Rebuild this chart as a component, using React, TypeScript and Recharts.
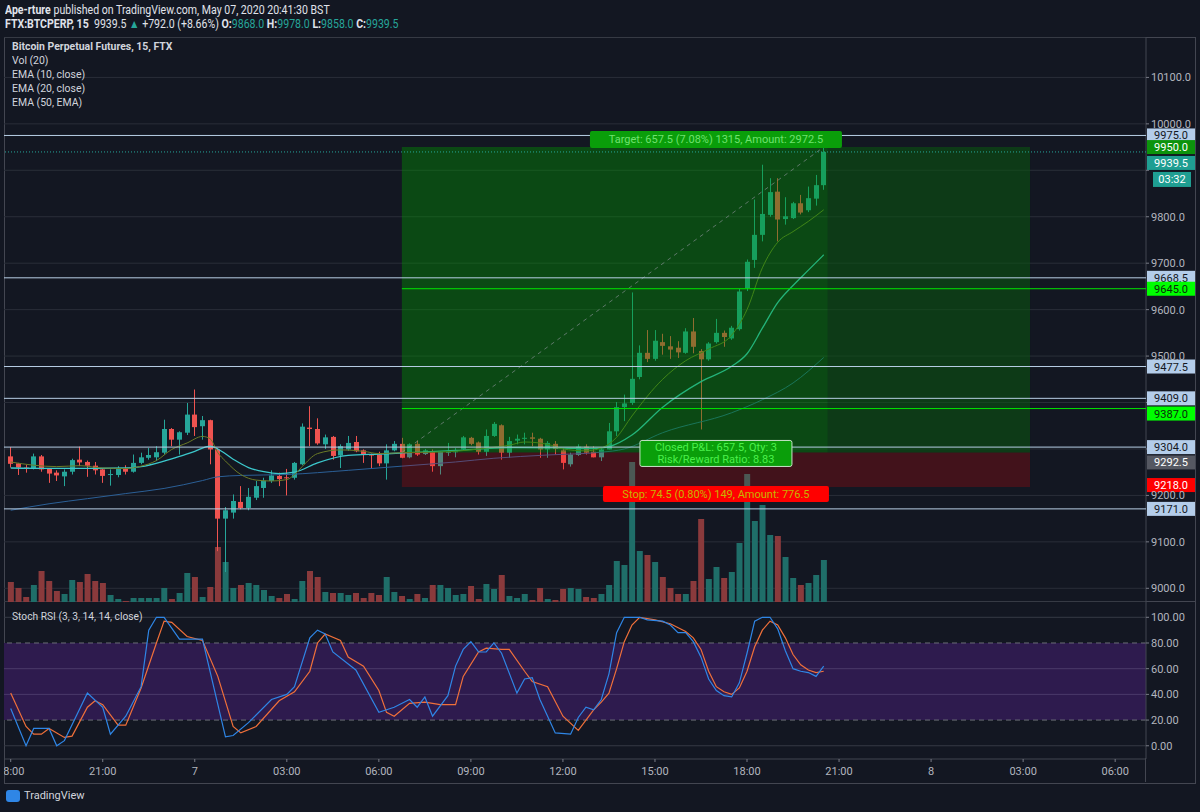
import React from "react"
import {
  ComposedChart, Bar, Line, Cell, XAxis, YAxis, CartesianGrid,
  ReferenceLine, ReferenceArea,
} from "recharts"

// ─── Colours ─────────────────────────────────────────────────────────────────
const BG = "#131722"
const UP = "#26a69a"
const DOWN = "#ef5350"
const TEXT = "#d1d4dc"
const AXIS = "#b2b5be"
const FRAME = "#434651"
const FONT = "Roboto, 'Noto Sans', sans-serif"

// ─── Candles (15m, from 18:00 May 6) ─────────────────────────────────────────
const open = [
  9284, 9269, 9260, 9258, 9284, 9257, 9249, 9241, 9251, 9277,
  9272, 9264, 9256, 9244, 9244, 9258, 9251, 9270, 9281, 9282,
  9292, 9343, 9320, 9335, 9374, 9349, 9362, 9299, 9150, 9163,
  9186, 9173, 9195, 9216, 9231, 9242, 9239, 9238, 9267, 9346,
  9343, 9310, 9326, 9286, 9299, 9315, 9297, 9288, 9288, 9269,
  9297, 9311, 9282, 9311, 9289, 9294, 9263, 9292, 9293, 9299,
  9324, 9314, 9294, 9328, 9351, 9292, 9318, 9322, 9325, 9322,
  9299, 9311, 9297, 9267, 9287, 9305, 9294, 9282, 9299, 9338,
  9390, 9399, 9455, 9507, 9494, 9530, 9521, 9518, 9507, 9553,
  9511, 9493, 9530, 9550, 9538, 9558, 9646, 9707, 9761, 9804,
  9854, 9795, 9797, 9829, 9814, 9839, 9868,
]
const high = [
  9304, 9270, 9266, 9290, 9287, 9259, 9254, 9256, 9279, 9305,
  9275, 9272, 9259, 9256, 9263, 9265, 9288, 9292, 9302, 9306,
  9363, 9345, 9338, 9399, 9428, 9371, 9363, 9302, 9175, 9202,
  9220, 9216, 9231, 9238, 9254, 9249, 9257, 9272, 9355, 9392,
  9366, 9331, 9328, 9310, 9328, 9328, 9299, 9290, 9294, 9310,
  9317, 9324, 9312, 9318, 9300, 9299, 9295, 9313, 9302, 9328,
  9326, 9316, 9342, 9358, 9353, 9326, 9331, 9335, 9335, 9324,
  9317, 9317, 9302, 9292, 9310, 9310, 9306, 9302, 9356, 9401,
  9417, 9637, 9523, 9556, 9556, 9548, 9543, 9532, 9560, 9582,
  9515, 9530, 9580, 9555, 9565, 9645, 9708, 9837, 9912, 9883,
  9883, 9842, 9832, 9847, 9865, 9890, 9978,
]
const low = [
  9260, 9244, 9249, 9256, 9251, 9227, 9231, 9220, 9245, 9263,
  9240, 9245, 9227, 9221, 9239, 9245, 9249, 9267, 9277, 9274,
  9288, 9306, 9288, 9330, 9328, 9320, 9267, 9080, 9035, 9150,
  9170, 9168, 9190, 9195, 9227, 9220, 9200, 9234, 9265, 9306,
  9309, 9300, 9277, 9259, 9296, 9293, 9270, 9258, 9263, 9234,
  9295, 9280, 9280, 9285, 9287, 9251, 9245, 9285, 9282, 9297,
  9308, 9288, 9285, 9326, 9277, 9281, 9310, 9310, 9306, 9281,
  9281, 9288, 9256, 9262, 9285, 9288, 9282, 9274, 9299, 9328,
  9360, 9395, 9450, 9487, 9490, 9503, 9494, 9496, 9505, 9506,
  9342, 9490, 9527, 9520, 9535, 9555, 9640, 9690, 9747, 9800,
  9747, 9783, 9795, 9805, 9810, 9824, 9858,
]
const close = [
  9268, 9260, 9258, 9284, 9256, 9247, 9243, 9251, 9276, 9271,
  9264, 9254, 9242, 9246, 9258, 9251, 9270, 9282, 9287, 9293,
  9343, 9320, 9336, 9374, 9347, 9362, 9299, 9150, 9168, 9188,
  9173, 9197, 9220, 9232, 9243, 9235, 9237, 9270, 9348, 9343,
  9312, 9325, 9285, 9306, 9313, 9295, 9287, 9286, 9269, 9297,
  9311, 9281, 9310, 9288, 9297, 9263, 9294, 9294, 9295, 9325,
  9311, 9294, 9328, 9354, 9292, 9317, 9322, 9324, 9322, 9299,
  9313, 9300, 9270, 9288, 9305, 9292, 9282, 9299, 9338, 9390,
  9398, 9451, 9507, 9494, 9533, 9522, 9514, 9508, 9553, 9520,
  9493, 9527, 9550, 9541, 9561, 9639, 9703, 9761, 9806, 9853,
  9794, 9801, 9829, 9809, 9840, 9868, 9939.5,
]
const volume = [
  20, 14, 5, 17, 31, 21, 11, 8, 22, 20,
  28, 21, 19, 7, 3, 1, 4, 4, 4, 4,
  14, 3, 9, 29, 25, 5, 15, 55, 40, 14,
  17, 19, 17, 12, 6, 4, 8, 3, 21, 31,
  25, 10, 9, 9, 7, 9, 4, 9, 7, 25,
  10, 6, 3, 8, 4, 17, 17, 14, 7, 8,
  16, 3, 18, 13, 27, 6, 4, 8, 2, 14,
  3, 2, 13, 14, 13, 5, 4, 8, 17, 41,
  37, 140, 51, 47, 40, 25, 14, 8, 8, 21,
  83, 23, 35, 24, 30, 59, 128, 81, 97, 67,
  66, 45, 24, 17, 19, 27, 42,
]

// ─── Indicators [bar index, value] ──────────────────────────────────────────
const ema10 = [
  [0, 9272], [3, 9265], [6, 9262], [9, 9264], [12, 9259], [15, 9258], [17, 9263],
  [19, 9275], [21, 9299], [23, 9313], [25, 9327], [26, 9322], [27, 9292], [28, 9274],
  [30, 9245], [32, 9233], [34, 9231], [36, 9234], [37, 9245], [38, 9262], [40, 9290],
  [43, 9298], [46, 9295], [48, 9290], [51, 9292], [55, 9293], [58, 9295], [62, 9302],
  [65, 9308], [67, 9315], [70, 9310], [72, 9300], [75, 9296], [77, 9302], [79, 9325],
  [81, 9371], [85, 9450], [88, 9490], [91, 9515], [94, 9545], [96, 9600], [98, 9690],
  [100, 9745], [102, 9768], [104, 9790], [106, 9815],
]
const ema20 = [
  [0, 9259], [5, 9258], [10, 9258], [15, 9259], [17, 9262], [20, 9274], [22, 9284],
  [24, 9295], [26, 9306], [27, 9300], [29, 9278], [31, 9260], [33, 9251], [35, 9247],
  [37, 9250], [40, 9270], [44, 9286], [48, 9289], [52, 9292], [58, 9297], [66, 9303],
  [72, 9302], [76, 9301], [78, 9305], [81, 9330], [85, 9390], [90, 9445], [94, 9478],
  [96, 9505], [98, 9560], [100, 9615], [102, 9652], [104, 9685], [106, 9718],
]
const ema50 = [
  [0, 9168], [5, 9182], [10, 9193], [15, 9204], [20, 9215], [25, 9232], [27, 9240],
  [30, 9243], [36, 9245], [44, 9254], [51, 9263], [58, 9272], [63, 9280], [70, 9287],
  [77, 9293], [80, 9300], [85, 9335], [94, 9378], [98, 9406], [102, 9442], [106, 9497],
]
const stochK = [
  [0, 29], [2, 0], [3, 13.5], [5, 13.5], [6, 0], [7, 4], [10, 41], [12, 30], [13, 9],
  [15, 23], [17, 46], [18, 90], [19, 100], [20, 100], [22, 83], [25, 83], [28, 7],
  [29, 8], [31, 18], [34, 36], [36, 40], [37, 46], [39, 84], [40, 90], [41, 87],
  [42, 73], [45, 59], [48, 26], [49, 28], [50, 30], [52, 36], [53, 30], [54, 38],
  [55, 23], [57, 39], [58, 62], [59, 75], [60, 81], [61, 73], [62, 73], [63, 80],
  [64, 72], [66, 41], [67, 52], [68, 53], [69, 36], [71, 10], [73, 9], [74, 22],
  [75, 30], [76, 28], [77, 36], [78, 56], [79, 88], [80, 100], [82, 100], [83, 98],
  [85, 97], [86, 94], [87, 88], [88, 88], [89, 81], [90, 69], [91, 52], [92, 43],
  [93, 39], [94, 38], [95, 49], [96, 72], [97, 97], [98, 100], [99, 100], [100, 91],
  [101, 74], [102, 60], [103, 58], [104, 57], [105, 54], [106, 62],
]
const stochD = [
  [0, 41], [2, 15], [3, 9], [4, 9], [5, 13.5], [7, 6.5], [8, 7.5], [10, 30], [11, 35],
  [12, 32], [14, 16], [15, 16], [17, 45], [19, 80], [20, 97], [21, 96], [23, 85],
  [25, 82], [27, 54], [29, 15], [30, 10], [32, 15], [35, 35], [37, 42], [39, 58],
  [40, 80], [41, 87], [43, 82], [44, 69], [46, 62], [48, 43], [49, 26], [50, 23],
  [52, 33], [54, 34], [56, 32], [58, 32], [59, 54], [61, 73], [62, 76], [64, 75],
  [65, 75], [67, 58], [68, 50], [70, 46], [72, 23], [74, 12], [76, 28], [77, 34],
  [78, 41], [79, 60], [80, 81], [81, 94], [82, 100], [84, 98], [86, 95], [88, 89],
  [89, 84], [90, 75], [91, 58], [92, 46], [93, 42], [94, 40], [95, 45], [96, 58],
  [97, 77], [98, 90], [99, 97], [100, 94], [101, 84], [102, 71], [103, 63], [104, 59],
  [105, 57], [106, 58],
]

// ─── Axes ────────────────────────────────────────────────────────────────────
const timeTicks = [0, 12, 24, 36, 48, 60, 72, 84, 96, 108, 120, 132, 144]
const timeLabels = ["18:00", "21:00", "7", "03:00", "06:00", "09:00", "12:00", "15:00", "18:00", "21:00", "8", "03:00", "06:00"]
const priceTicks = [9000, 9100, 9200, 9300, 9400, 9500, 9600, 9700, 9800, 9900, 10000, 10100]
const coveredTicks = [9300, 9400, 9900] // hidden under the price tags
const rsiTicks = [0, 20, 40, 60, 80, 100]

// ─── Drawings ────────────────────────────────────────────────────────────────
const lightLevels = [9975, 9668.5, 9477.5, 9409, 9304, 9171]
const greenLevels = [9645, 9387]
const ENTRY = 9292.5
const TARGET = 9950
const STOP = 9218
const POS_FROM = 51
const POS_TO = 132.9
const POS_CLOSED = 106.5

const X_DOMAIN: [number, number] = [-0.874, 148.02]

const candles = open.map((o, i) => ({ i, o, h: high[i], l: low[i], c: close[i], v: volume[i] }))
const pts = (a: number[][]) => a.map(([i, v]) => ({ i, v }))
const last = candles[candles.length - 1]

// ─── Shapes ──────────────────────────────────────────────────────────────────
function Candle(props: any) {
  const { x, y, width, height, payload } = props
  if (!payload) return null
  const top = Math.min(y, y + height)
  const hgt = Math.abs(height)
  const range = payload.h - payload.l || 1
  const toY = (v: number) => top + ((payload.h - v) / range) * hgt
  const color = payload.c >= payload.o ? UP : DOWN
  const bTop = toY(Math.max(payload.o, payload.c))
  const bBot = toY(Math.min(payload.o, payload.c))
  const cx = Math.round(x + width / 2) + 0.5
  return (
    <g>
      <line x1={cx} x2={cx} y1={top} y2={top + hgt} stroke={color} strokeWidth={1} />
      <rect x={cx - 2.5} y={bTop} width={5} height={Math.max(1, bBot - bTop)} fill={color} />
    </g>
  )
}

function tag(text: string, bg: string, fg: string, dy = 0, sub?: string) {
  return (props: any) => {
    const vb = props.viewBox
    if (!vb) return null
    const x = vb.x + vb.width + 1
    const y = vb.y + dy
    return (
      <g>
        <rect x={x} y={y - 7} width={48} height={14} fill={bg} />
        <text x={x + 24} y={y + 4} textAnchor="middle" fill={fg} fontSize={11} fontFamily={FONT}>{text}</text>
        {sub && <rect x={x + 6} y={y + 9} width={38} height={15} fill={bg} />}
        {sub && <text x={x + 25} y={y + 20} textAnchor="middle" fill={fg} fontSize={11} fontFamily={FONT}>{sub}</text>}
      </g>
    )
  }
}

function TargetLabel(props: any) {
  const vb = props.viewBox
  if (!vb) return null
  const cx = vb.x + vb.width / 2
  const lbl = `Target: ${(TARGET - ENTRY).toFixed(1)} (7.08%) 1315, Amount: 2972.5`
  const pnl1 = `Closed P&L: ${(TARGET - ENTRY).toFixed(1)}, Qty: 3`
  const pnl2 = `Risk/Reward Ratio: ${((TARGET - ENTRY) / (ENTRY - STOP)).toFixed(2)}`
  const bottom = vb.y + vb.height
  return (
    <g fontFamily={FONT} fontSize={11}>
      <rect x={cx - 126} y={vb.y - 16} width={252} height={17} rx={2} fill="#0a9e0a" />
      <text x={cx} y={vb.y - 4} textAnchor="middle" fill="#6fe26f">{lbl}</text>
      <rect x={cx - 76} y={bottom - 12} width={152} height={26} rx={2} fill="#0a9e0a" stroke="#c8e6c9" strokeWidth={1} />
      <text x={cx} y={bottom - 1} textAnchor="middle" fill="#4cf04c">{pnl1}</text>
      <text x={cx} y={bottom + 11} textAnchor="middle" fill="#4cf04c">{pnl2}</text>
    </g>
  )
}

function StopLabel(props: any) {
  const vb = props.viewBox
  if (!vb) return null
  const cx = vb.x + vb.width / 2
  const bottom = vb.y + vb.height
  return (
    <g fontFamily={FONT} fontSize={11}>
      <rect x={cx - 113} y={bottom - 1} width={226} height={16} rx={2} fill="#ff0000" />
      <text x={cx} y={bottom + 11} textAnchor="middle" fill="#c8b400">
        {`Stop: ${(ENTRY - STOP).toFixed(1)} (0.80%) 149, Amount: 776.5`}
      </text>
    </g>
  )
}

// ─── App ─────────────────────────────────────────────────────────────────────
export default function App() {
  const tickStyle = { fill: AXIS, fontSize: 11, fontFamily: FONT }
  const narrow = { transform: "scaleX(0.88)", transformOrigin: "0 0" }
  return (
    <div style={{ position: "absolute", left: 0, top: 0, width: 1200, height: 812, background: BG, overflow: "hidden", fontFamily: FONT }}>
      {/* header */}
      <div style={{ position: "absolute", left: 5, top: 3, fontSize: 12, lineHeight: "14px", color: "#e0e3eb", whiteSpace: "nowrap", ...narrow }}>
        <div><b>Ape-rture</b> published on TradingView.com, May 07, 2020 20:41:30 BST</div>
        <div>
          <b>FTX:BTCPERP, 15</b>&nbsp; {last.c.toFixed(1)} <span style={{ color: UP }}>▲</span> +792.0 (+8.66%){" "}
          <b>O:</b><span style={{ color: UP }}>{last.o.toFixed(1)}</span>{" "}
          <b>H:</b><span style={{ color: UP }}>{last.h.toFixed(1)}</span>{" "}
          <b>L:</b><span style={{ color: UP }}>{last.l.toFixed(1)}</span>{" "}
          <b>C:</b><span style={{ color: UP }}>{last.c.toFixed(1)}</span>
        </div>
      </div>

      {/* frame */}
      <div style={{ position: "absolute", left: 4, top: 37, width: 1190, height: 745, border: `1px solid ${FRAME}` }} />
      <div style={{ position: "absolute", left: 5, top: 601, width: 1190, height: 1, background: FRAME }} />
      <div style={{ position: "absolute", left: 1145, top: 758, width: 1, height: 24, background: FRAME }} />

      {/* price pane */}
      <div style={{ position: "absolute", left: 4, top: 37 }}>
        <ComposedChart width={1192} height={565} data={candles} margin={{ top: 0, right: 0, bottom: 0, left: 0 }}>
          <CartesianGrid xAxisId="x" yAxisId="p" vertical={false} stroke="#2a2e39" />
          <XAxis xAxisId="x" dataKey="i" type="number" domain={X_DOMAIN} allowDataOverflow hide />
          <XAxis xAxisId="v" dataKey="i" type="number" domain={X_DOMAIN} allowDataOverflow hide />
          <YAxis yAxisId="v" domain={[0, 565]} hide />
          <YAxis
            yAxisId="p" orientation="right" width={50} domain={[8970.5, 10187]} allowDataOverflow
            ticks={priceTicks} tickFormatter={(v: number) => (coveredTicks.includes(v) ? "" : v.toFixed(1))}
            tick={tickStyle} tickSize={3} tickLine={{ stroke: "#787b86" }} axisLine={{ stroke: FRAME }}
          />
          <Bar xAxisId="v" yAxisId="v" dataKey="v" barSize={6} isAnimationActive={false}>
            {candles.map((d) => (
              <Cell key={d.i} fill={d.c >= d.o ? "#1f6e69" : "#8a3a3c"} />
            ))}
          </Bar>
          <Bar xAxisId="x" yAxisId="p" dataKey={(d: any) => [d.l, d.h]} barSize={5} shape={Candle} isAnimationActive={false} />
          <Line xAxisId="x" yAxisId="p" data={pts(ema50)} dataKey="v" type="monotone" stroke="#2b5f96" strokeWidth={1} dot={false} isAnimationActive={false} />
          <Line xAxisId="x" yAxisId="p" data={pts(ema20)} dataKey="v" type="monotone" stroke="#3cc8cc" strokeWidth={1.3} dot={false} isAnimationActive={false} />
          <Line xAxisId="x" yAxisId="p" data={pts(ema10)} dataKey="v" type="monotone" stroke="#6b7a26" strokeWidth={1} dot={false} isAnimationActive={false} />

          <ReferenceArea xAxisId="x" yAxisId="p" x1={POS_FROM} x2={POS_TO} y1={ENTRY} y2={TARGET} fill="#009600" fillOpacity={0.4} zIndex={450} />
          <ReferenceArea xAxisId="x" yAxisId="p" x1={POS_CLOSED} x2={POS_TO} y1={ENTRY} y2={TARGET} fill={BG} fillOpacity={0.3} zIndex={451} />
          <ReferenceArea xAxisId="x" yAxisId="p" x1={POS_FROM} x2={POS_TO} y1={STOP} y2={ENTRY} fill="#ff0000" fillOpacity={0.2} zIndex={450} />
          <ReferenceArea xAxisId="x" yAxisId="p" x1={POS_FROM} x2={POS_TO} y1={ENTRY} y2={TARGET} fill="none" fillOpacity={0} zIndex={700} label={TargetLabel} />
          <ReferenceArea xAxisId="x" yAxisId="p" x1={POS_FROM} x2={POS_TO} y1={STOP} y2={ENTRY} fill="none" fillOpacity={0} zIndex={700} label={StopLabel} />
          <ReferenceLine
            xAxisId="x" yAxisId="p" zIndex={460}
            segment={[{ x: POS_FROM, y: ENTRY }, { x: 106, y: TARGET }]}
            stroke="#9598a1" strokeOpacity={0.6} strokeDasharray="4 4"
          />

          {lightLevels.map((p) => (
            <ReferenceLine key={p} xAxisId="x" yAxisId="p" y={p} stroke="#b8cfe6" strokeWidth={1} zIndex={600}
              label={tag(p.toFixed(1), "#b4cdea", "#131722")} />
          ))}
          {greenLevels.map((p, k) => (
            <ReferenceLine key={p} xAxisId="x" yAxisId="p" zIndex={600}
              segment={[{ x: POS_FROM, y: p }, { x: X_DOMAIN[1], y: p }]} stroke="#00e600" strokeWidth={1}
              label={tag(p.toFixed(1), "#00ff00", "#0b2a0b", k === 1 ? 5 : 0)} />
          ))}
          <ReferenceLine xAxisId="x" yAxisId="p" y={TARGET} stroke="none" strokeOpacity={0} zIndex={610}
            label={tag(TARGET.toFixed(1), "#0c930c", "#ffffff")} />
          <ReferenceLine xAxisId="x" yAxisId="p" y={last.c} stroke={UP} strokeDasharray="1 2" zIndex={610}
            label={tag(last.c.toFixed(1), "#1f9e92", "#ffffff", 11, "03:32")} />
          <ReferenceLine xAxisId="x" yAxisId="p" y={ENTRY} stroke="none" strokeOpacity={0} zIndex={610}
            label={tag(ENTRY.toFixed(1), "#555862", "#ffffff", 10)} />
          <ReferenceLine xAxisId="x" yAxisId="p" y={STOP} stroke="none" strokeOpacity={0} zIndex={610}
            label={tag(STOP.toFixed(1), "#ff0000", "#ffffff", -2)} />
        </ComposedChart>
      </div>

      {/* legend */}
      <div style={{ position: "absolute", left: 12, top: 40, fontSize: 11, lineHeight: "14px", color: TEXT, whiteSpace: "nowrap", transform: "scaleX(0.95)", transformOrigin: "0 0" }}>
        <div style={{ fontWeight: 700 }}>Bitcoin Perpetual Futures, 15, FTX</div>
        <div>Vol (20)</div>
        <div>EMA (10, close)</div>
        <div>EMA (20, close)</div>
        <div>EMA (50, EMA)</div>
      </div>

      {/* stoch rsi pane */}
      <div style={{ position: "absolute", left: 4, top: 602 }}>
        <ComposedChart width={1192} height={181} margin={{ top: 0, right: 0, bottom: 0, left: 0 }}>
          <XAxis
            dataKey="i" type="number" domain={X_DOMAIN} allowDataOverflow height={24} interval={0}
            ticks={timeTicks} tickFormatter={(v: number) => timeLabels[timeTicks.indexOf(v)] ?? ""}
            tick={tickStyle} tickSize={3} tickMargin={5} tickLine={{ stroke: "#787b86" }} axisLine={{ stroke: FRAME }}
          />
          <YAxis
            orientation="right" width={50} domain={[-10.3, 111.9]} allowDataOverflow
            ticks={rsiTicks} tickFormatter={(v: number) => v.toFixed(2)} tick={tickStyle}
            tickSize={3} tickLine={{ stroke: "#787b86" }} axisLine={{ stroke: FRAME }}
          />
          <ReferenceArea y1={20} y2={80} fill="#2e1b4e" fillOpacity={1} />
          <ReferenceLine y={100} stroke="#363a45" />
          <ReferenceLine y={0} stroke="#363a45" />
          <ReferenceLine y={60} stroke="#4a3a6a" />
          <ReferenceLine y={40} stroke="#4a3a6a" />
          <ReferenceLine y={80} stroke="#6b6e78" strokeDasharray="5 4" />
          <ReferenceLine y={20} stroke="#6b6e78" strokeDasharray="5 4" />
          <Line data={pts(stochD)} dataKey="v" type="linear" stroke="#f0703a" strokeWidth={1.2} dot={false} isAnimationActive={false} />
          <Line data={pts(stochK)} dataKey="v" type="linear" stroke="#2f86e6" strokeWidth={1.2} dot={false} isAnimationActive={false} />
        </ComposedChart>
      </div>
      <div style={{ position: "absolute", left: 12, top: 610, fontSize: 11, color: TEXT, whiteSpace: "nowrap", transform: "scaleX(0.93)", transformOrigin: "0 0" }}>
        Stoch RSI (3, 3, 14, 14, close)
      </div>

      {/* footer */}
      <div style={{ position: "absolute", left: 6, top: 789, display: "flex", alignItems: "center", gap: 4, fontSize: 11, color: TEXT }}>
        <span style={{ display: "inline-block", width: 14, height: 12, background: "#2f86e6", borderRadius: 3 }} />
        <span>TradingView</span>
      </div>
    </div>
  )
}
